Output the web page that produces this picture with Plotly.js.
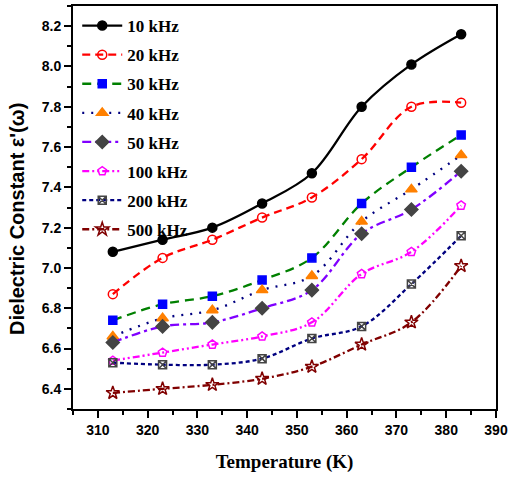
<!DOCTYPE html>
<html>
<head>
<meta charset="utf-8">
<script src="https://cdn.plot.ly/plotly-3.0.1.min.js"></script>
<style>html,body{margin:0;padding:0;background:#fff;}#chart{width:508px;height:481px;}</style>
</head>
<body>
<div id="chart"></div>
<script>
const temperature = [313, 323, 333, 343, 353, 363, 373, 383];
const f10k  = [7.08, 7.14, 7.20, 7.32, 7.47, 7.80, 8.01, 8.16];
const f20k  = [6.87, 7.05, 7.14, 7.25, 7.35, 7.54, 7.80, 7.82];
const f30k  = [6.74, 6.82, 6.86, 6.94, 7.05, 7.32, 7.50, 7.66];
const f40k  = [6.66, 6.75, 6.79, 6.89, 6.96, 7.23, 7.39, 7.56];
const f50k  = [6.63, 6.71, 6.73, 6.80, 6.89, 7.17, 7.29, 7.48];
const f100k = [6.54, 6.58, 6.62, 6.66, 6.73, 6.97, 7.08, 7.31];
const f200k = [6.53, 6.52, 6.52, 6.55, 6.65, 6.71, 6.92, 7.16];
const f500k = [6.38, 6.40, 6.42, 6.45, 6.51, 6.62, 6.73, 7.01];
const seriesNames = ['10 kHz','20 kHz','30 kHz','40 kHz','50 kHz','100 kHz','200 kHz','500 kHz'];
const xTicks = [310, 320, 330, 340, 350, 360, 370, 380, 390];
const yTicks = [6.4, 6.6, 6.8, 7.0, 7.2, 7.4, 7.6, 7.8, 8.0, 8.2];

const allY = [f10k, f20k, f30k, f40k, f50k, f100k, f200k, f500k];
const styles = [
  {lc:'#000000', dash:'solid', sym:'circle', mc:'#000000', ms:9},
  {lc:'#ff0000', dash:'8px,5px', sym:'circle-open', mc:'#ff0000', ms:9},
  {lc:'#008000', dash:'9px,6px', sym:'square', mc:'#0000ff', ms:8},
  {lc:'#000080', dash:'2px,7px', sym:'triangle-up', mc:'#ff8000', ms:10},
  {lc:'#8000ff', dash:'9px,4px,3px,4px', sym:'diamond', mc:'#444444', ms:10},
  {lc:'#ff00ff', dash:'7px,3px,2px,3px,2px,3px', sym:'pentagon-open', mc:'#ff00ff', ms:9},
  {lc:'#000080', dash:'4px,3px', sym:'square-x-open', mc:'#444444', ms:8},
  {lc:'#800000', dash:'7px,3px,2px,3px', sym:'star-open', mc:'#800000', ms:10}
];

const traces = allY.map((ys, i) => ({
  x: temperature,
  y: ys,
  name: '<b>' + seriesNames[i] + '</b>',
  legendgroup: 'g' + i,
  type: 'scatter',
  mode: 'lines+markers',
  line: {color: styles[i].lc, dash: styles[i].dash, width: 2.3, shape: 'spline', smoothing: 1},
  marker: {symbol: styles[i].sym, color: styles[i].mc, size: styles[i].ms,
           line: {color: styles[i].mc, width: 1.5}}
}));

const layout = {
  width: 508, height: 481,
  margin: {l: 73, r: 12, t: 6, b: 72},
  paper_bgcolor: '#ffffff', plot_bgcolor: '#ffffff',
  showlegend: true,
  legend: {
    x: 0.01, y: 0.995, xanchor: 'left', yanchor: 'top',
    bgcolor: 'rgba(0,0,0,0)', borderwidth: 0,
    font: {family: 'Liberation Serif, Times New Roman, serif', size: 17, color: '#000'},
    itemwidth: 40, tracegroupgap: 4
  },
  xaxis: {
    range: [305, 390], tickvals: xTicks, ticktext: xTicks.map(String),
    ticks: 'outside', ticklen: 7, tickwidth: 2, tickcolor: '#000',
    minor: {dtick: 5, tick0: 305, ticks: 'outside', ticklen: 4, tickwidth: 2, tickcolor: '#000'},
    showline: true, linecolor: '#000', linewidth: 2, mirror: true, showgrid: false, zeroline: false,
    tickfont: {family: 'Liberation Sans Narrow, Liberation Sans, Arial, sans-serif', size: 14, color: '#000', weight: 'bold'},
    title: {text: '<b>Temperature (K)</b>', standoff: 18,
            font: {family: 'Liberation Serif, Times New Roman, serif', size: 19, color: '#000'}}
  },
  yaxis: {
    range: [6.3, 8.3], tickvals: yTicks, ticktext: yTicks.map(v => v.toFixed(1)),
    ticks: 'outside', ticklen: 7, tickwidth: 2, tickcolor: '#000',
    minor: {dtick: 0.1, tick0: 6.3, ticks: 'outside', ticklen: 4, tickwidth: 2, tickcolor: '#000'},
    showline: true, linecolor: '#000', linewidth: 2, mirror: true, showgrid: false, zeroline: false,
    tickfont: {family: 'Liberation Sans Narrow, Liberation Sans, Arial, sans-serif', size: 14, color: '#000', weight: 'bold'}
  },
  annotations: [{
    text: "<b>Dielectric Constant ε'(ω)</b>",
    xref: 'paper', yref: 'paper', x: -0.1324, y: 0.4715,
    xanchor: 'center', yanchor: 'middle', textangle: -90, showarrow: false,
    font: {family: 'Liberation Sans, Arial, sans-serif', size: 20, color: '#000'}
  }]
};

Plotly.newPlot('chart', traces, layout, {displayModeBar: false, staticPlot: true});
</script>
</body>
</html>
